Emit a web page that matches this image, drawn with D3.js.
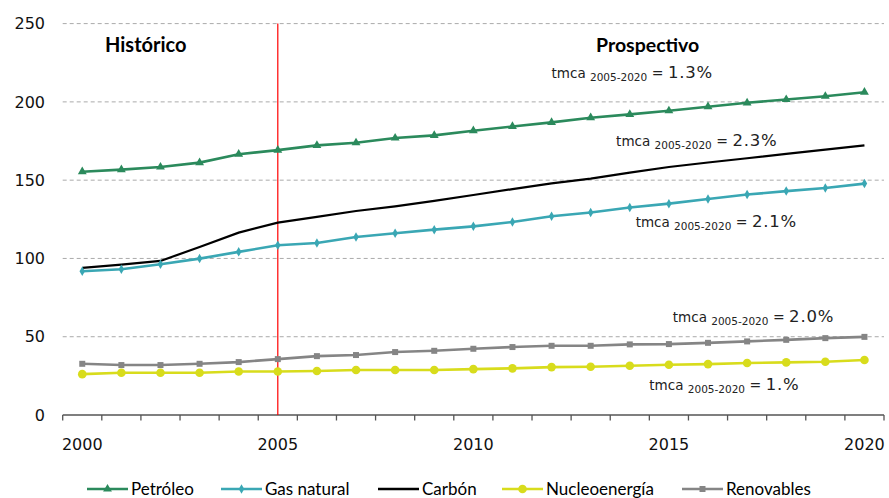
<!DOCTYPE html>
<html><head><meta charset="utf-8">
<script src="https://cdn.jsdelivr.net/npm/d3@7"></script>
<style>body{margin:0;background:#fff}svg{display:block}</style>
</head><body>
<svg id="chart" width="889" height="498"></svg>
<script>
const years = d3.range(2000, 2021);
const petroleo = [155.4,156.7,158.4,161.2,166.6,169.2,172.2,173.9,176.9,178.6,181.6,184.3,186.9,189.9,192,194.3,196.9,199.4,201.5,203.6,206.2];
const gasNatural = [91.8,93.1,96.3,99.9,104.2,108.4,109.9,113.7,116.1,118.4,120.5,123.3,126.9,129.3,132.5,135,138,140.8,143,145,147.8];
const carbon = [94,96,98.4,107.3,116.5,122.9,126.5,130.3,133.3,136.8,140.5,144.3,148,151,154.8,158.4,161.3,164,166.8,169.5,172.2];
const nucleo = [26.1,27,27,27,27.8,27.8,28.1,28.7,28.7,28.7,29.3,29.8,30.6,30.8,31.5,32.1,32.5,33.2,33.6,34,35.1];
const renovables = [32.7,31.9,31.9,32.7,33.8,35.7,37.6,38.3,40.2,41,42.3,43.4,44.2,44.2,45.1,45.3,46.1,47,48,49.1,49.9];
const yTicks = [0,50,100,150,200,250];
const xLabels = [2000,2005,2010,2015,2020];
const seriesNames = ["Petróleo","Gas natural","Carbón","Nucleoenergía","Renovables"];
const seriesColors = ["#2b8a5c","#3aa7b4","#000000","#d8dc1c","#858585"];
const seriesMarkers = ["triangle","diamond","none","circle","square"];
const seriesValues = [petroleo, gasNatural, carbon, nucleo, renovables];
const annotations = [
  {year:2012.0, value:215, rate:"1.3%"},
  {year:2013.65, value:171.8, rate:"2.3%"},
  {year:2014.15, value:120, rate:"2.1%"},
  {year:2015.1, value:59.5, rate:"2.0%"},
  {year:2014.5, value:16, rate:"1.%"}
];

const svg = d3.select("#chart");
const x = d3.scaleBand().domain(years).range([62.7, 884]).padding(0);
const y = d3.scaleLinear().domain([0, 250]).range([415, 23.6]);
const cx = v => x(v) + x.bandwidth()/2;
const font = "'DejaVu Sans', sans-serif";

// gridlines
svg.append("g").selectAll("line").data(yTicks.filter(d=>d>0)).join("line")
  .attr("x1", 62.7).attr("x2", 884).attr("y1", d=>y(d)).attr("y2", d=>y(d))
  .attr("stroke", "#aaaaaa").attr("stroke-width", 1).attr("stroke-dasharray", "4,3");

// y labels
svg.append("g").selectAll("text").data(yTicks).join("text")
  .attr("x", 45).attr("y", d=>y(d)).attr("dy", "0.36em").attr("text-anchor", "end")
  .attr("font-family", font).attr("font-size", 16).attr("fill", "#111").text(d=>d);

// x axis
const xAxis = svg.append("g").attr("transform", `translate(0,${y(0)})`);
xAxis.append("line").attr("x1", 62.7).attr("x2", 884).attr("stroke", "#555").attr("stroke-width", 1.3);
const bounds = years.map(d=>x(d)).concat([884]);
xAxis.selectAll("line.t").data(bounds).join("line").attr("class","t")
  .attr("x1", d=>d).attr("x2", d=>d).attr("y1", 0).attr("y2", 5.5).attr("stroke", "#555").attr("stroke-width", 1.3);
xAxis.selectAll("text").data(xLabels).join("text")
  .attr("x", d=>cx(d)).attr("y", 35).attr("text-anchor", "middle")
  .attr("font-family", font).attr("font-size", 16).attr("fill", "#111").text(d=>d);

// red separator
svg.append("line").attr("x1", cx(2005)).attr("x2", cx(2005)).attr("y1", y(250)).attr("y2", y(0))
  .attr("stroke", "#ff0000").attr("stroke-width", 1.2);

function marker(g, type, color, px, py) {
  if (type === "triangle") g.append("path").attr("d", d3.symbol(d3.symbolTriangle, 34)()).attr("transform", `translate(${px},${py})`).attr("fill", color);
  else if (type === "diamond") g.append("path").attr("d", d3.symbol(d3.symbolDiamond, 26)()).attr("transform", `translate(${px},${py})`).attr("fill", color);
  else if (type === "circle") g.append("circle").attr("cx", px).attr("cy", py).attr("r", 4.3).attr("fill", color);
  else if (type === "square") g.append("path").attr("d", d3.symbol(d3.symbolSquare, 36)()).attr("transform", `translate(${px},${py})`).attr("fill", color);
}

// series
const line = d3.line().x((d,i)=>cx(years[i])).y(d=>y(d));
[4,3,2,1,0].forEach(si => {
  const g = svg.append("g");
  g.append("path").attr("d", line(seriesValues[si])).attr("fill", "none")
    .attr("stroke", seriesColors[si]).attr("stroke-width", si===2?2.2:2.6);
  if (seriesMarkers[si] !== "none")
    seriesValues[si].forEach((v,i)=>marker(g, seriesMarkers[si], seriesColors[si], cx(years[i]), y(v)));
});

// headings
svg.append("text").attr("x", 105).attr("y", 52).attr("font-family", "Lato, sans-serif").attr("font-weight", "bold")
  .attr("font-size", 20).attr("fill", "#000").text("Histórico");
svg.append("text").attr("x", 596).attr("y", 52).attr("font-family", "Lato, sans-serif").attr("font-weight", "bold")
  .attr("font-size", 19.5).attr("fill", "#000").text("Prospectivo");

// tmca annotations
const annX = d3.scaleLinear().domain([2000, 2020]).range([cx(2000), cx(2020)]);
annotations.forEach(a => {
  const t = svg.append("text").attr("x", annX(a.year)).attr("y", y(a.value))
    .attr("font-family", "'DejaVu Sans', sans-serif").attr("fill", "#222");
  t.append("tspan").attr("font-size", 13.5).text("tmca ");
  t.append("tspan").attr("font-size", 10.5).attr("dy", 3).text("2005-2020");
  t.append("tspan").attr("font-size", 14).attr("dy", -3).text(" = ");
  t.append("tspan").attr("font-size", 16.5).attr("letter-spacing", 0.8).text(a.rate);
});

// legend
const legendX = [87, 221, 378, 502, 682];
const lg = svg.append("g");
seriesNames.forEach((n, i) => {
  const g = lg.append("g");
  g.append("line").attr("x1", legendX[i]).attr("x2", legendX[i]+41).attr("y1", 489).attr("y2", 489)
    .attr("stroke", seriesColors[i]).attr("stroke-width", 2.6);
  if (seriesMarkers[i] !== "none") marker(g, seriesMarkers[i], seriesColors[i], legendX[i]+20.5, 489);
  g.append("text").attr("x", legendX[i]+44).attr("y", 494.5)
    .attr("font-family", "Lato, sans-serif").attr("font-size", 17).attr("fill", "#000").text(n);
});
</script>
</body></html>
